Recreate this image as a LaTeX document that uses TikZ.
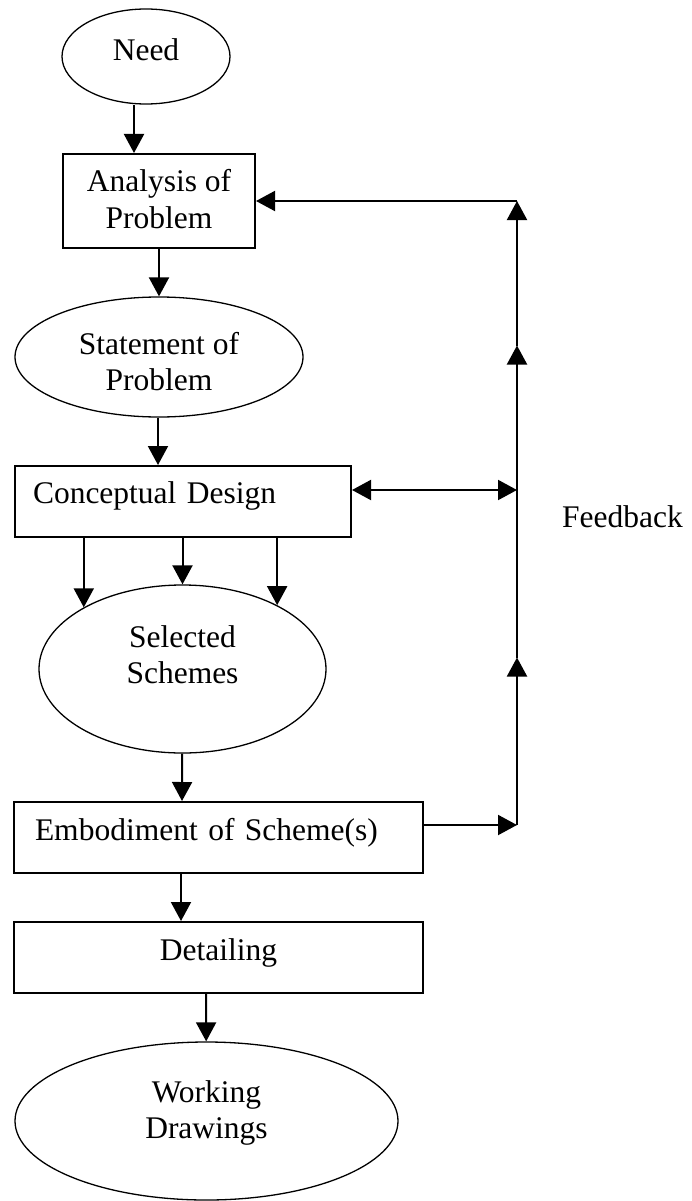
\documentclass[tikz,border=0pt]{standalone}
\usepackage{fontspec}
\setmainfont{Liberation Serif}
\usetikzlibrary{arrows.meta,shapes.geometric}

\begin{document}
\begin{tikzpicture}[
  x=1pt, y=-1pt,
  font=\fontsize{31.5}{36}\selectfont,
  box/.style={draw, line width=2pt, rectangle, inner sep=0pt, text height=21pt},
  oval/.style={draw, line width=1.3pt, ellipse, inner sep=0pt, align=center, text height=57pt},
  fb/.style={line width=2pt},
  arr/.style={fb, -{Triangle[length=19pt,width=20pt]}},
  twoway/.style={fb, {Triangle[length=19pt,width=20pt]}-{Triangle[length=19pt,width=20pt]}}
]
\path[fill=white, use as bounding box] (0,0) rectangle (691,1201);

\node[oval, minimum width=168pt, minimum height=95pt, text height=21pt, text depth=12pt] (need) at (146,56.5) {Need};
\node[box, align=center, minimum width=192pt, minimum height=94pt, text height=57pt, text depth=3pt] (analysis) at (159,201) {Analysis of\\Problem};
\node[oval, minimum width=288pt, minimum height=120pt, text height=72pt, text depth=6pt] (statement) at (159,357) {Statement of\\Problem};
\node[box, align=left, inner xsep=18pt, text width=300pt, minimum height=71pt, text depth=18pt] (concept) at (183,501.5) {Conceptual Design};
\node[oval, minimum width=287pt, minimum height=168pt, text depth=29pt] (selected) at (182.5,669) {Selected\\Schemes};
\node[box, align=left, inner xsep=21pt, text width=367pt, minimum height=71pt, text depth=16pt] (embodiment) at (218.5,837.5) {Embodiment of Scheme(s)};
\node[box, minimum width=409pt, minimum height=71pt, text depth=16pt] (detailing) at (218.5,957.5) {Detailing};
\node[oval, minimum width=383pt, minimum height=158pt, text depth=23pt] (working) at (206.5,1121) {Working\\Drawings};
\node[anchor=base] (feedback) at (622.5,527) {Feedback};

% main flow
\draw[arr] ([xshift=-12pt]need.south) -- ([xshift=-25pt]analysis.north);
\draw[arr] (analysis) -- (statement);
\draw[arr] ([xshift=-1pt]statement.south) -- ([xshift=-25pt]concept.north);
\foreach \a in {148,90,34}
  \draw[arr] (selected.\a |- concept.south) -- (selected.\a);
\draw[arr] (selected) -- ([xshift=-36.5pt]embodiment.north);
\draw[arr] ([xshift=-37.5pt]embodiment.south) -- ([xshift=-37.5pt]detailing.north);
\draw[arr] ([xshift=-12.5pt]detailing.south) -- (working);

% feedback loop
\coordinate (fbE) at (517,825);
\coordinate (fbL) at (517,657.5);
\coordinate (fbC) at (517,490);
\coordinate (fbU) at (517,345.5);
\coordinate (fbA) at (517,201);
\draw[arr] ([yshift=12.5pt]embodiment.east) -- (fbE);
\draw[arr] (fbE) -- (fbL);
\draw[fb] (fbL) -- (fbC);
\draw[twoway] ([yshift=11.5pt]concept.east) -- (fbC);
\draw[arr] (fbC) -- (fbU);
\draw[arr] (fbU) -- (fbA);
\draw[arr] (fbA) -- (analysis.east);
\end{tikzpicture}
\end{document}
